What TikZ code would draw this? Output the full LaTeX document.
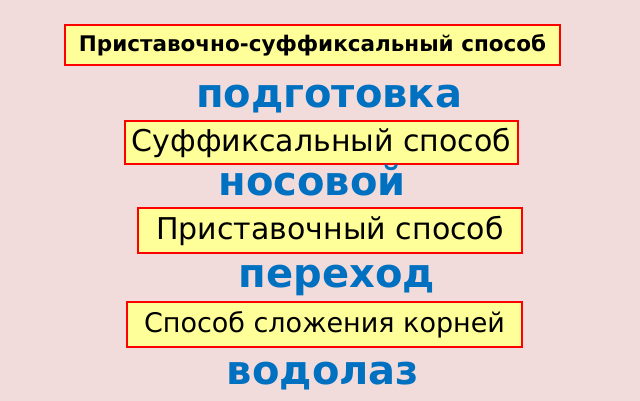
\documentclass[tikz,border=0pt]{standalone}
\usepackage{fontspec}
\setmainfont{DejaVu Sans}
\usepackage{xcolor}
\usetikzlibrary{positioning}
\definecolor{bgpink}{HTML}{F2DCDB}
\definecolor{boxyellow}{HTML}{FFFF99}
\definecolor{wordblue}{HTML}{0070C0}
\tikzstyle{way} = [draw=red,line width=1.5pt,fill=boxyellow,inner sep=0pt,font=\fontsize{30}{36}\selectfont]
\tikzstyle{word} = [text=wordblue,inner sep=0pt,anchor=base,font=\bfseries\fontsize{40}{48}\selectfont]

\begin{document}
\begin{tikzpicture}[x=1pt,y=-1pt]
    \fill[bgpink] (0,0) rectangle (640,401);
    \useasboundingbox (0,0) rectangle (640,401);

    \node[way, minimum width=495, minimum height=40, font=\bfseries\fontsize{21.5}{26}\selectfont] (title) at (312.5,45) {Приставочно-суффиксальный способ};
    \node[word] (w1) at (329,108) {подготовка};
    \node[way, minimum width=393, minimum height=43] (suf) at (321.5,142.5) {Суффиксальный способ};
    \node[word] (w2) at (312,196) {носовой};
    \node[way, minimum width=384, minimum height=45] (pref) at (330,230.5) {Приставочный способ};
    \node[word] (w3) at (337,287) {переход};
    \node[way, minimum width=395, minimum height=45, font=\fontsize{27}{32}\selectfont] (comp) at (324.5,324.5) {Способ сложения корней};
    \node[word] (w4) at (323,384) {водолаз};
\end{tikzpicture}
\end{document}
